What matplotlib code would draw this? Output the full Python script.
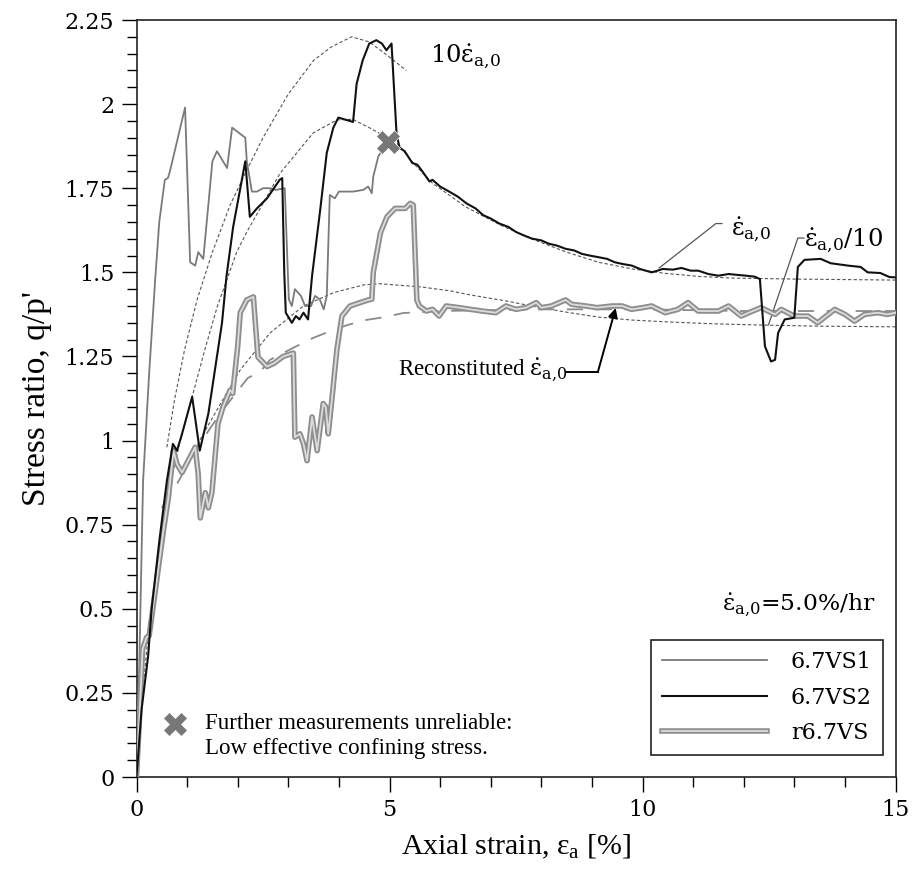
import matplotlib
matplotlib.use("Agg")
import matplotlib.pyplot as plt
import matplotlib.patheffects as pe
from matplotlib.ticker import MultipleLocator, FixedLocator

plt.rcParams['mathtext.fontset'] = 'dejavuserif'

# ---------------- data ----------------
vs1_x = [0.0, 0.05, 0.13, 0.25, 0.37, 0.45, 0.56, 0.62, 0.66, 0.96, 1.06, 1.16, 1.22, 1.32,
         1.50, 1.59, 1.79, 1.89, 2.15, 2.18, 2.28, 2.38, 2.50, 2.64, 2.75, 2.93, 3.01, 3.07,
         3.13, 3.25, 3.33, 3.45, 3.53, 3.62, 3.70, 3.76, 3.82, 3.92, 4.00, 4.28, 4.48, 4.58,
         4.65, 4.68, 4.78, 4.97]
vs1_y = [0.0, 0.30, 0.88, 1.20, 1.48, 1.65, 1.775, 1.78, 1.80, 1.99, 1.53, 1.52, 1.56, 1.54,
         1.83, 1.86, 1.81, 1.93, 1.90, 1.83, 1.74, 1.74, 1.75, 1.75, 1.745, 1.75, 1.42, 1.40,
         1.45, 1.43, 1.40, 1.40, 1.43, 1.42, 1.39, 1.43, 1.73, 1.72, 1.74, 1.74, 1.745, 1.755,
         1.735, 1.785, 1.845, 1.888]

vs2_x = [0.0, 0.10, 0.23, 0.30, 0.45, 0.60, 0.72, 0.80, 0.90, 1.10, 1.25, 1.42, 1.55, 1.69,
         1.78, 1.91, 2.15, 2.24, 2.38, 2.58, 2.83, 2.88, 2.92, 2.95, 3.07, 3.15, 3.22, 3.30,
         3.39, 3.47, 3.63, 3.76, 3.89, 3.99, 4.28, 4.35, 4.47, 4.60, 4.74, 4.85, 4.94, 5.04,
         5.14, 5.20, 5.30, 5.45, 5.55, 5.65, 5.79, 5.85, 6.00, 6.18, 6.35, 6.52, 6.70, 6.85,
         7.00, 7.17, 7.35, 7.50, 7.65, 7.82, 8.00, 8.15, 8.30, 8.48, 8.65, 8.80, 8.95, 9.13,
         9.30, 9.45, 9.60, 9.79, 9.95, 10.18, 10.30, 10.40, 10.60, 10.77, 10.95, 11.10, 11.30,
         11.50, 11.70, 11.90, 12.05, 12.22, 12.32, 12.42, 12.54, 12.62, 12.68, 12.81, 13.00,
         13.07, 13.20, 13.52, 13.72, 14.06, 14.31, 14.45, 14.70, 14.88, 15.00]
vs2_y = [0.0, 0.20, 0.36, 0.50, 0.70, 0.88, 0.99, 0.97, 1.02, 1.13, 0.97, 1.08, 1.21, 1.35,
         1.49, 1.635, 1.83, 1.665, 1.69, 1.72, 1.775, 1.78, 1.50, 1.38, 1.35, 1.37, 1.36, 1.38,
         1.36, 1.49, 1.685, 1.855, 1.93, 1.96, 1.947, 2.06, 2.13, 2.18, 2.19, 2.18, 2.16, 2.18,
         1.91, 1.87, 1.86, 1.825, 1.82, 1.80, 1.77, 1.775, 1.755, 1.74, 1.725, 1.705, 1.69, 1.67,
         1.66, 1.645, 1.635, 1.62, 1.61, 1.60, 1.595, 1.585, 1.58, 1.57, 1.565, 1.555, 1.55, 1.545,
         1.54, 1.53, 1.525, 1.52, 1.51, 1.50, 1.505, 1.51, 1.508, 1.513, 1.505, 1.505, 1.495,
         1.49, 1.495, 1.492, 1.49, 1.487, 1.48, 1.28, 1.235, 1.24, 1.32, 1.36, 1.365,
         1.516, 1.537, 1.54, 1.527, 1.52, 1.516, 1.50, 1.498, 1.486, 1.485]

r_x = [0.0, 0.05, 0.12, 0.20, 0.25, 0.40, 0.53, 0.63, 0.73, 0.80, 0.90, 1.02, 1.16, 1.22,
       1.26, 1.36, 1.42, 1.49, 1.61, 1.71, 1.85, 1.90, 2.00, 2.05, 2.18, 2.31, 2.40, 2.58,
       2.72, 2.90, 3.10, 3.13, 3.23, 3.30, 3.37, 3.47, 3.57, 3.69, 3.74, 3.79, 3.86, 3.96,
       4.06, 4.22, 4.42, 4.58, 4.65, 4.68, 4.82, 4.95, 5.11, 5.31, 5.41, 5.47, 5.54, 5.59,
       5.73, 5.85, 5.98, 6.12, 6.38, 6.60, 6.83, 7.10, 7.30, 7.50, 7.70, 7.90, 8.00, 8.20,
       8.48, 8.60, 8.88, 9.10, 9.40, 9.60, 9.78, 10.00, 10.18, 10.45, 10.70, 10.90, 11.10,
       11.50, 11.70, 11.95, 12.10, 12.34, 12.62, 12.74, 13.00, 13.27, 13.46, 13.80, 14.00,
       14.19, 14.39, 14.65, 14.84, 15.00]
r_y = [0.0, 0.15, 0.38, 0.415, 0.42, 0.585, 0.73, 0.83, 0.97, 0.93, 0.905, 0.94, 0.98, 0.90,
       0.77, 0.845, 0.80, 0.845, 1.05, 1.10, 1.15, 1.14, 1.28, 1.38, 1.418, 1.427, 1.248, 1.22,
       1.23, 1.25, 1.26, 1.01, 1.02, 0.99, 0.94, 1.07, 0.97, 1.11, 1.10, 1.02, 1.12, 1.27,
       1.37, 1.40, 1.41, 1.418, 1.42, 1.50, 1.617, 1.665, 1.69, 1.69, 1.705, 1.70, 1.418, 1.40,
       1.385, 1.39, 1.37, 1.40, 1.395, 1.39, 1.385, 1.38, 1.40, 1.39, 1.395, 1.41, 1.395, 1.40,
       1.418, 1.405, 1.40, 1.395, 1.40, 1.40, 1.39, 1.395, 1.40, 1.38, 1.39, 1.41, 1.385,
       1.385, 1.40, 1.37, 1.38, 1.395, 1.375, 1.39, 1.37, 1.37, 1.35, 1.39, 1.375,
       1.355, 1.375, 1.38, 1.375, 1.38]

# fitted trend lines
fit10_x = [0.60, 0.75, 0.95, 1.20, 1.50, 1.85, 2.20, 2.50, 3.00, 3.50, 3.85, 4.25, 4.60, 5.00, 5.33]
fit10_y = [0.98, 1.12, 1.27, 1.42, 1.56, 1.70, 1.81, 1.90, 2.03, 2.13, 2.17, 2.20, 2.185, 2.14, 2.10]

fit1_x = [0.0, 0.10, 0.25, 0.45, 0.63, 0.85, 1.10, 1.35, 1.60, 1.98, 2.18, 2.84, 3.49, 3.96,
          4.27, 4.60, 5.14, 5.50, 5.85, 6.50, 7.20, 7.80, 8.50, 9.13, 9.80, 10.45, 11.10,
          11.75, 13.00, 15.00]
fit1_y = [0.0, 0.22, 0.45, 0.68, 0.85, 0.99, 1.13, 1.27, 1.40, 1.56, 1.62, 1.795, 1.914, 1.953,
          1.955, 1.93, 1.885, 1.82, 1.765, 1.695, 1.64, 1.60, 1.56, 1.53, 1.51, 1.497, 1.488,
          1.483, 1.48, 1.477]

fit01_x = [0.90, 1.32, 1.70, 2.05, 2.64, 3.30, 3.90, 4.50, 4.81, 5.60, 6.20, 6.59, 7.30, 7.91,
           8.56, 9.13, 9.80, 10.45, 11.40, 12.42, 13.50, 15.00]
fit01_y = [0.90, 1.02, 1.12, 1.21, 1.32, 1.40, 1.44, 1.463, 1.466, 1.457, 1.445, 1.433, 1.415,
           1.397, 1.38, 1.367, 1.358, 1.353, 1.347, 1.343, 1.34, 1.338]

recon_x = [0.50, 0.76, 1.20, 1.70, 2.20, 2.44, 2.64, 3.09, 3.49, 3.79, 4.16, 4.52, 4.91, 5.27,
           6.00, 8.00, 10.00, 12.00, 15.00]
recon_y = [0.80, 0.86, 0.98, 1.09, 1.186, 1.204, 1.24, 1.275, 1.305, 1.323, 1.343, 1.358, 1.367,
           1.379, 1.385, 1.39, 1.39, 1.385, 1.385]

marker_x = [4.97]
marker_y = [1.888]

x_ticks = [0, 5, 10, 15]
y_ticks = [0, 0.25, 0.5, 0.75, 1, 1.25, 1.5, 1.75, 2, 2.25]
y_tick_labels = ['0', '0.25', '0.5', '0.75', '1', '1.25', '1.5', '1.75', '2', '2.25']

# ---------------- figure ----------------
fig = plt.figure(figsize=(9.14, 8.8), dpi=100)
ax = fig.add_axes([136.5 / 914, (880 - 777) / 880, (895.5 - 136.5) / 914, (777 - 20) / 880])

ed = r'\dot{\mathrm{\varepsilon}}_{\mathrm{a{,}0}}'
fit_style = dict(color='#555555', lw=0.8, ls=(0, (3, 2)), zorder=2)

ax.plot(fit10_x, fit10_y, **fit_style)
ax.plot(fit1_x, fit1_y, **fit_style)
ax.plot(fit01_x, fit01_y, **fit_style)
ax.plot(recon_x, recon_y, color='#8a8a8a', lw=1.3, ls=(0, (9, 7)), zorder=2)

ax.plot(vs1_x, vs1_y, color='#7a7a7a', lw=1.3, label='6.7VS1', zorder=3)
ax.plot(vs2_x, vs2_y, color='#111111', lw=1.5, label='6.7VS2', zorder=4)
ax.plot(r_x, r_y, color='#dcdcdc', lw=1.3, label='r6.7VS', zorder=3,
        path_effects=[pe.Stroke(linewidth=4.0, foreground='#8e8e8e'), pe.Normal()])

ax.plot(marker_x, marker_y, ls='none', marker='X', ms=17, color='#777777',
        markeredgecolor='white', markeredgewidth=0.5, zorder=6)

# axes formatting
ax.set_xlim(0, 15)
ax.set_ylim(0, 2.25)
ax.xaxis.set_major_locator(FixedLocator(x_ticks))
ax.xaxis.set_minor_locator(MultipleLocator(1))
ax.yaxis.set_major_locator(FixedLocator(y_ticks))
ax.set_yticklabels(y_tick_labels)
ax.yaxis.set_minor_locator(MultipleLocator(0.05))
ax.tick_params(which='major', direction='out', length=11, width=1.0, labelsize=16,
               top=False, right=False, pad=5)
ax.tick_params(which='minor', direction='out', length=7, width=1.0, top=False, right=False)
for lab in ax.get_xticklabels() + ax.get_yticklabels():
    lab.set_fontfamily('DejaVu Serif')
for sp in ax.spines.values():
    sp.set_linewidth(1.2)
    sp.set_color('#222222')

ax.set_xlabel(r'Axial strain, $\mathregular{\varepsilon}_{\mathregular{a}}$ [%]',
              fontsize=21.5, family='Liberation Serif', labelpad=8)
ax.set_ylabel("Stress ratio, q/p'", fontsize=24, family='Liberation Serif', labelpad=9)

# annotations
ax.text(5.8, 2.14, r'$10' + ed + '$', fontsize=17.5, va='center', ha='left')
ax.text(11.75, 1.625, '$' + ed + '$', fontsize=17.5, va='center', ha='left')
ax.text(13.2, 1.595, '$' + ed + '/10$', fontsize=17.5, va='center', ha='left')
ax.plot([10.33, 11.45, 11.57], [1.513, 1.645, 1.645], color='#555555', lw=0.9)
ax.plot([12.49, 13.07, 13.19], [1.344, 1.602, 1.602], color='#555555', lw=0.9)

ax.text(5.17, 1.21, 'Reconstituted $' + ed + '$', fontsize=16.5, va='center', ha='left',
        family='Liberation Serif')
ax.annotate('', xy=(9.47, 1.394), xytext=(9.12, 1.205),
            arrowprops=dict(arrowstyle='-|>', color='black', lw=1.4, mutation_scale=14,
                            shrinkA=0, shrinkB=0))
ax.plot([8.5, 9.12], [1.205, 1.205], color='black', lw=1.4)

ax.text(14.6, 0.51, '$' + ed + r'$=5.0%/hr', fontsize=16.8, ha='right', va='center',
        family='DejaVu Serif')

ax.plot([0.76], [0.158], ls='none', marker='X', ms=17, color='#777777',
        markeredgecolor='white', markeredgewidth=0.5)
ax.text(1.35, 0.158, 'Further measurements unreliable:', fontsize=16.5,
        family='Liberation Serif', va='center')
ax.text(1.35, 0.084, 'Low effective confining stress.', fontsize=16.5,
        family='Liberation Serif', va='center')

leg = ax.legend(loc='lower right', bbox_to_anchor=(0.9835, 0.029), borderaxespad=0,
                handlelength=4.7, handletextpad=1.1, labelspacing=0.6,
                frameon=True, fancybox=False, edgecolor='#222222', framealpha=1,
                borderpad=0.5, prop={'family': 'DejaVu Serif', 'size': 16})
leg.get_frame().set_linewidth(1.2)

fig.savefig('out.png', dpi=100)
